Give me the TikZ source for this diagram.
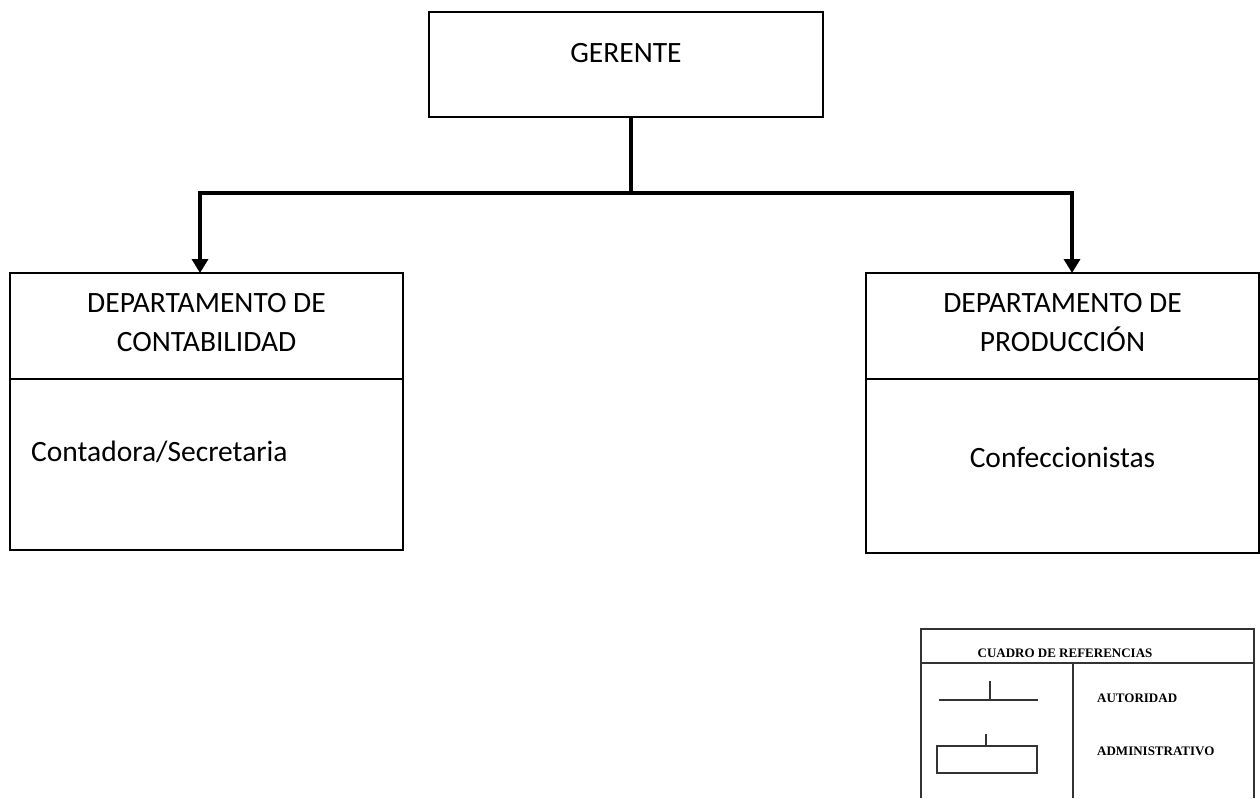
\documentclass[tikz,border=0pt]{standalone}
\usepackage{fontspec}
\setmainfont{Carlito}
\newfontfamily\legfont{Liberation Serif}
\usetikzlibrary{arrows.meta}
\begin{document}
\begin{tikzpicture}[x=1pt,y=-1pt,
  box/.style={draw=black,line width=2.5pt,inner sep=0pt,outer sep=0pt},
  lbl/.style={inner sep=0pt,font=\fontsize{29.5}{39}\selectfont,align=center},
  conn/.style={line width=4pt},
  arr/.style={line width=4pt,-{Triangle[width=16pt,length=14pt]}},
  legline/.style={draw=black!80,line width=1.4pt},
  legtxt/.style={inner sep=0pt,font=\legfont\bfseries\fontsize{13}{15}\selectfont}]
\useasboundingbox (0,0) rectangle (1260,798);

% top box
\node[box,minimum width=394pt,minimum height=105pt] (ger) at (626,64.5) {};
\node[lbl] (gerT) at (626,53) {GERENTE};

% accounting department
\node[box,minimum width=393pt,minimum height=106pt] (contH) at (206.5,326) {};
\node[box,minimum width=393pt,minimum height=171pt] (contB) at (206.5,464.5) {};
\node[lbl] (contT) at (206.5,322.5) {DEPARTAMENTO DE\\CONTABILIDAD};
\node[lbl,anchor=west] (contP) at (31,452) {Contadora/Secretaria};

% production department
\node[box,minimum width=393pt,minimum height=106pt] (prodH) at (1062.5,326) {};
\node[box,minimum width=393pt,minimum height=174pt] (prodB) at (1062.5,466) {};
\node[lbl] (prodT) at (1062.5,322.5) {DEPARTAMENTO DE\\PRODUCCIÓN};
\node[lbl] (prodP) at (1062.5,457) {Confeccionistas};

% connectors
\draw[conn] ([xshift=5pt]ger.south) -- ++(0,76) coordinate (junc);
\draw[arr] (junc) -| ([xshift=-6.5pt]contH.north);
\draw[arr] (junc) -| ([xshift=9.5pt]prodH.north);

% reference table
\coordinate (tl) at (921,629);
\coordinate (tr) at (1254,629);
\draw[legline] (921,798) -- (tl) -- (tr) -- (1254,798);
\draw[legline] (921,663) -- (1254,663);
\draw[legline] (1073,663) -- (1073,798);
\node[legtxt] (legT) at (1065,653) {CUADRO DE REFERENCIAS};

\draw[legline] (939,700) -- (1038,700);
\draw[legline] (990,681) -- (990,700);
\node[legtxt,anchor=west] (legA) at (1097,698) {AUTORIDAD};

\node[legline,draw,inner sep=0pt,minimum width=100pt,minimum height=27pt] (legBox) at (987,759.5) {};
\draw[legline] (legBox.north) ++(-1,0) -- ++(0,-11);
\node[legtxt,anchor=west] (legB) at (1097,751) {ADMINISTRATIVO};
\end{tikzpicture}
\end{document}
